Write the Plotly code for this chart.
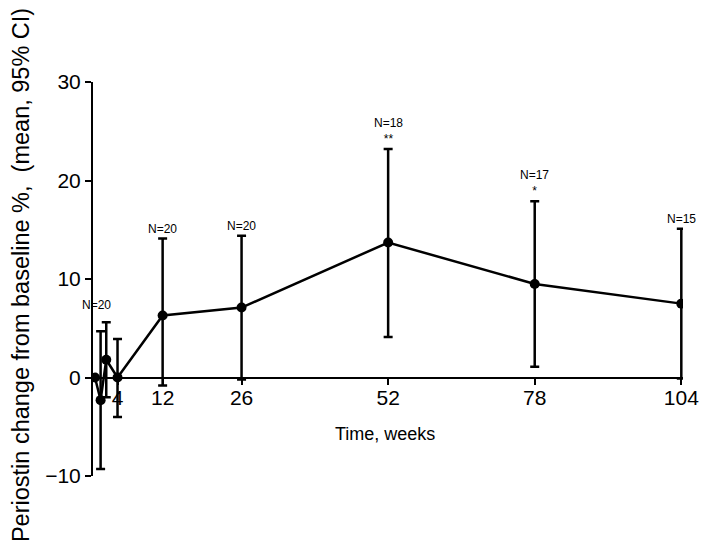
import plotly.graph_objects as go

# ---- data ----
weeks = [0, 1, 2, 4, 12, 26, 52, 78, 104]
mean_change = [0.0, -2.3, 1.8, 0.0, 6.3, 7.1, 13.7, 9.5, 7.5]
ci_upper = [0.0, 4.7, 5.6, 3.9, 14.1, 14.4, 23.2, 17.9, 15.1]
ci_lower = [0.0, -9.3, -2.0, -4.0, -0.8, -0.2, 4.1, 1.1, -0.1]
n_labels = ["", "N=20", "", "", "N=20", "N=20", "N=18", "N=17", "N=15"]
sig_marks = ["", "", "", "", "", "", "**", "*", ""]
x_tick_vals = [4, 12, 26, 52, 78, 104]
y_tick_vals = [-10, 0, 10, 20, 30]

err_plus = [u - m for u, m in zip(ci_upper, mean_change)]
err_minus = [m - l for m, l in zip(mean_change, ci_lower)]

FONT = "Arial, Liberation Sans, sans-serif"

ML, MR, MT, MB = 93, 19, 82, 75
W, H = 711, 551

fig = go.Figure()
fig.add_trace(go.Scatter(
    x=weeks, y=mean_change, mode="lines+markers",
    line=dict(color="black", width=2.5),
    marker=dict(color="black", size=10),
    error_y=dict(type="data", symmetric=False, array=err_plus, arrayminus=err_minus,
                 color="black", thickness=2.5, width=4.5),
    showlegend=False,
))

# N / significance labels above the upper CI
for wk, up, nl, sg in zip(weeks, ci_upper, n_labels, sig_marks):
    if not nl:
        continue
    if wk == 1:
        text = nl + "<br> "
        xshift = -4
    elif sg:
        text = nl + "<br>" + sg
        xshift = 0
    else:
        text = nl
        xshift = 0
    fig.add_annotation(x=wk, y=up, xref="x", yref="y", text=text, showarrow=False,
                       yanchor="bottom", xanchor="center", yshift=1, xshift=xshift,
                       font=dict(family=FONT, size=12, color="black"))

# axis titles (positions relative to plot area)
fig.add_annotation(x=0.495, y=0.107, xref="paper", yref="paper",
                   text="Time, weeks", showarrow=False, xanchor="center", yanchor="middle",
                   font=dict(family=FONT, size=18, color="black"))
fig.add_annotation(x=-0.122, y=0.51, xref="paper", yref="paper",
                   text="Periostin change from baseline %,  (mean, 95% CI)", textangle=-90,
                   showarrow=False, xanchor="center", yanchor="middle",
                   font=dict(family=FONT, size=23.5, color="black"))

fig.update_layout(
    width=W, height=H,
    margin=dict(l=ML, r=MR, t=MT, b=MB),
    paper_bgcolor="white", plot_bgcolor="white",
    font=dict(family=FONT, color="black"),
    xaxis=dict(range=[-0.35, 104.3], tickvals=x_tick_vals, ticktext=[str(v) for v in x_tick_vals],
               showgrid=False, zeroline=False, showline=True, linecolor="black", linewidth=2,
               ticks="outside", ticklen=6, tickwidth=2, tickcolor="black",
               tickfont=dict(family=FONT, size=21, color="black"),
               ticklabelstandoff=-5,
               anchor="free", position=0.25),
    yaxis=dict(range=[-10, 30], tickvals=y_tick_vals, showgrid=False, zeroline=False,
               showline=True, linecolor="black", linewidth=2,
               ticks="outside", ticklen=6, tickwidth=2, tickcolor="black",
               tickfont=dict(family=FONT, size=21, color="black")),
)

fig.write_html("out.html", config={"displayModeBar": False},
               post_script="document.body.style.margin='0';document.body.style.overflow='hidden';")
